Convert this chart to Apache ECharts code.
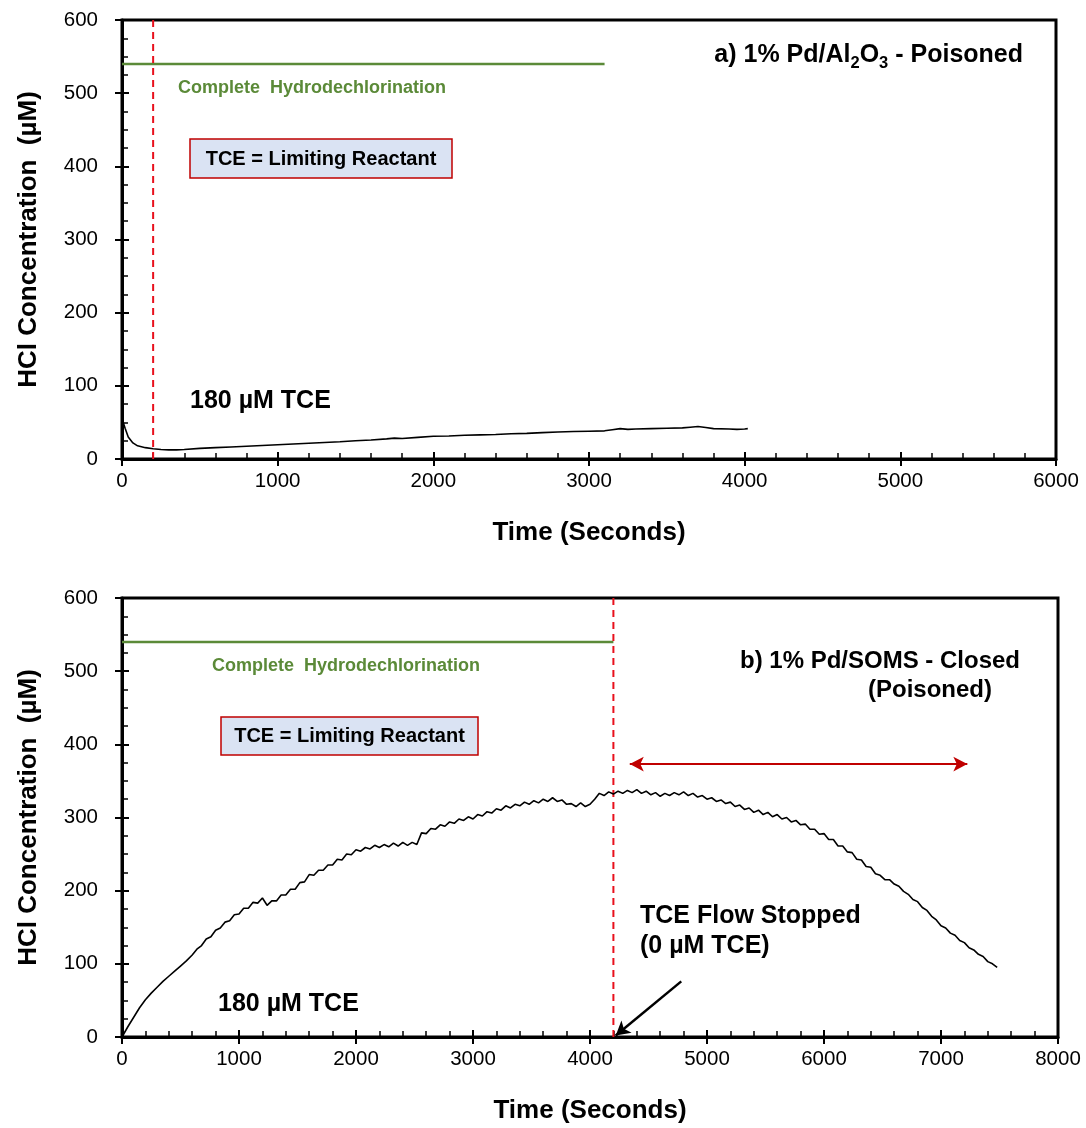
<!DOCTYPE html>
<html>
<head>
<meta charset="utf-8">
<script src="https://cdn.jsdelivr.net/npm/echarts@6/dist/echarts.min.js"></script>
<style>
  html, body { margin: 0; padding: 0; background: #fff; }
  #chart { width: 1086px; height: 1128px; }
</style>
</head>
<body>
<div id="chart"></div>
<script>
// HCl produced over time, panel a: 1% Pd/Al2O3 (poisoned), [time s, HCl µM]
const poisonedAl2O3 = [
  [0, 4], [8, 50], [20, 42], [40, 30], [70, 22], [100, 18], [150, 15.5], [200, 14],
  [250, 13], [300, 12.5], [350, 12.5], [400, 13], [500, 14.5], [600, 15.5], [700, 16.5],
  [800, 17.5], [900, 18.5], [1000, 19.5], [1100, 20.5], [1200, 21.5], [1300, 22.5],
  [1400, 23.5], [1500, 25], [1600, 26], [1700, 27.5], [1750, 28.5], [1800, 28],
  [1900, 29.5], [2000, 31], [2100, 31.5], [2200, 32.5], [2300, 33], [2400, 33.5],
  [2500, 34.5], [2600, 35], [2700, 36], [2800, 37], [2900, 37.5], [3000, 38],
  [3100, 38.5], [3150, 40], [3200, 41.5], [3250, 40.5], [3300, 41], [3400, 41.5],
  [3500, 42], [3600, 42.5], [3650, 43.5], [3700, 44.5], [3750, 43], [3800, 41.5],
  [3900, 41], [3950, 40.5], [4000, 41], [4020, 41.5]
];

// Panel b: 1% Pd/SOMS closed (poisoned), [time s, HCl µM]
const closedSOMS = [
  [0, 0], [50, 14], [100, 27], [150, 40], [200, 51], [250, 60], [300, 68], [350, 76],
  [400, 83], [450, 90], [500, 97], [550, 104], [600, 112], [640, 120], [680, 125],
  [720, 134], [760, 137], [800, 146], [840, 149], [880, 157], [920, 159], [960, 167],
  [1000, 168], [1040, 176], [1080, 176], [1120, 184], [1160, 183], [1200, 190],
  [1240, 180], [1280, 186], [1320, 186], [1360, 194], [1400, 194], [1440, 202],
  [1480, 202], [1520, 211], [1560, 212], [1600, 222], [1640, 221], [1680, 228],
  [1720, 228], [1760, 235], [1800, 235], [1840, 243], [1880, 242], [1920, 250],
  [1960, 249], [2000, 256], [2040, 254], [2080, 259], [2120, 257], [2160, 262],
  [2200, 259], [2240, 263], [2280, 260], [2320, 265], [2360, 261], [2400, 266],
  [2440, 262], [2480, 266], [2520, 263], [2560, 279], [2600, 278], [2640, 285],
  [2680, 284], [2720, 290], [2760, 288], [2800, 294], [2840, 292], [2880, 298],
  [2920, 296], [2960, 301], [3000, 298], [3040, 304], [3080, 302], [3120, 308],
  [3160, 306], [3200, 312], [3240, 310], [3280, 316], [3320, 313], [3360, 318],
  [3400, 316], [3440, 321], [3480, 318], [3520, 323], [3560, 320], [3600, 325],
  [3640, 322], [3680, 327], [3720, 322], [3760, 324], [3800, 318], [3840, 319],
  [3880, 315], [3920, 320], [3960, 315], [4000, 318], [4040, 325], [4080, 333],
  [4120, 330], [4160, 335], [4200, 332], [4240, 336], [4280, 333], [4320, 337],
  [4360, 334], [4400, 338], [4440, 333], [4480, 336], [4520, 331], [4560, 334],
  [4600, 329], [4640, 333], [4680, 330], [4720, 334], [4760, 331], [4800, 335],
  [4840, 330], [4880, 333], [4920, 328], [4960, 330], [5000, 325], [5040, 327],
  [5080, 322], [5120, 324], [5160, 319], [5200, 321], [5240, 315], [5280, 317],
  [5320, 311], [5360, 313], [5400, 307], [5440, 310], [5480, 304], [5520, 307],
  [5560, 301], [5600, 304], [5640, 298], [5680, 300], [5720, 294], [5760, 296],
  [5800, 290], [5840, 291], [5880, 284], [5920, 284], [5960, 277], [6000, 278],
  [6040, 270], [6080, 270], [6120, 261], [6160, 261], [6200, 253], [6240, 252],
  [6280, 243], [6320, 242], [6360, 233], [6400, 232], [6440, 223], [6480, 221],
  [6520, 215], [6560, 215], [6600, 209], [6640, 206], [6680, 199], [6720, 195],
  [6760, 188], [6800, 185], [6840, 177], [6880, 173], [6920, 165], [6960, 160],
  [7000, 152], [7040, 149], [7080, 142], [7120, 139], [7160, 132], [7200, 129],
  [7240, 122], [7280, 119], [7320, 113], [7360, 110], [7400, 103], [7440, 100],
  [7480, 95]
];

// Reference levels and event markers
const completeHDC = 540;          // µM HCl for complete hydrodechlorination
const completeEndA = 3100;        // extent of the reference line, panel a (s)
const completeEndB = 4200;        // extent of the reference line, panel b (s)
const markerTimeA = 200;          // dashed marker, panel a (s)
const flowStopTimeB = 4200;       // TCE flow stopped, panel b (s)
const spanArrowB = [[4340, 373], [7225, 373]];   // period after flow stopped
const pointerArrowB = [[4780, 76], [4220, 2]];   // pointer to the flow-stop time

// Axis ranges
const yMax = 600, yStep = 100;
const xMaxA = 6000, xMaxB = 8000, xStep = 1000;

const FONT = '"Liberation Sans", Arial, sans-serif';
const GREEN = '#5b8a38';
const RED = '#e8101c';
const DARK_RED = '#c00000';

const chart = echarts.init(document.getElementById('chart'), null, { renderer: 'canvas' });

const grids = [
  { left: 122, top: 20, width: 934, height: 439 },
  { left: 122, top: 598, width: 936, height: 439 }
];

const plainNumber = v => String(v);

// Main axes carry labels, line and inner ticks; the twin axes add outer halves of major ticks.
function xAxes(gridIndex, max, nameGap) {
  const base = {
    gridIndex, type: 'value', min: 0, max, interval: xStep, position: 'bottom',
    splitLine: { show: false }
  };
  return [
    Object.assign({}, base, {
      name: 'Time (Seconds)', nameLocation: 'middle', nameGap,
      nameTextStyle: { fontFamily: FONT, fontSize: 26, fontWeight: 'bold', color: '#000' },
      axisLine: { show: true, lineStyle: { color: '#000', width: 3 } },
      axisTick: { show: true, inside: true, length: 7, lineStyle: { color: '#000', width: 2 } },
      minorTick: { show: true, splitNumber: 5, length: 6, lineStyle: { color: '#000', width: 1.5 } },
      axisLabel: { margin: 12, fontFamily: FONT, fontSize: 20.5, color: '#000', formatter: plainNumber }
    }),
    Object.assign({}, base, {
      axisLine: { show: false },
      axisTick: { show: true, inside: false, length: 7, lineStyle: { color: '#000', width: 2 } },
      axisLabel: { show: false }
    })
  ];
}
function yAxes(gridIndex) {
  const base = {
    gridIndex, type: 'value', min: 0, max: yMax, interval: yStep, position: 'left',
    splitLine: { show: false }
  };
  return [
    Object.assign({}, base, {
      name: 'HCl Concentration  (µM)', nameLocation: 'middle', nameGap: 80,
      nameTextStyle: { fontFamily: FONT, fontSize: 26, fontWeight: 'bold', color: '#000' },
      axisLine: { show: true, lineStyle: { color: '#000', width: 3 } },
      axisTick: { show: true, inside: true, length: 7, lineStyle: { color: '#000', width: 2 } },
      minorTick: { show: true, splitNumber: 4, length: 6, lineStyle: { color: '#000', width: 1.5 } },
      axisLabel: { margin: 24, fontFamily: FONT, fontSize: 20.5, color: '#000', formatter: plainNumber }
    }),
    Object.assign({}, base, {
      axisLine: { show: false },
      axisTick: { show: true, inside: false, length: 7, lineStyle: { color: '#000', width: 2 } },
      axisLabel: { show: false }
    })
  ];
}

function refLine(xi, yi, data, color, width, type) {
  return {
    type: 'line', xAxisIndex: xi, yAxisIndex: yi, data, symbol: 'none', silent: true,
    lineStyle: { color, width, type }, z: 3
  };
}

const option = {
  animation: false,
  backgroundColor: '#fff',
  grid: grids.map(g => Object.assign({ show: true, borderColor: '#000', borderWidth: 3,
    backgroundColor: 'transparent' }, g)),
  xAxis: [...xAxes(0, xMaxA, 61), ...xAxes(1, xMaxB, 61)],
  yAxis: [...yAxes(0), ...yAxes(1)],
  series: [
    // panel a
    refLine(0, 0, [[0, completeHDC], [completeEndA, completeHDC]], GREEN, 2.5, 'solid'),
    refLine(0, 0, [[markerTimeA, 0], [markerTimeA, yMax]], RED, 2, [7, 5]),
    {
      type: 'line', xAxisIndex: 0, yAxisIndex: 0, data: poisonedAl2O3,
      symbol: 'none', lineStyle: { color: '#000', width: 1.6 }, z: 4
    },
    // panel b
    refLine(2, 2, [[0, completeHDC], [completeEndB, completeHDC]], GREEN, 2.5, 'solid'),
    refLine(2, 2, [[flowStopTimeB, 0], [flowStopTimeB, yMax]], RED, 2, [7, 5]),
    {
      type: 'line', xAxisIndex: 2, yAxisIndex: 2, data: closedSOMS,
      symbol: 'none', lineStyle: { color: '#000', width: 1.6 }, z: 4,
      markLine: {
        silent: true, animation: false, precision: 3,
        label: { show: false },
        data: [
          [
            { coord: spanArrowB[0], symbol: 'arrow', symbolSize: [11, 14],
              lineStyle: { color: DARK_RED, width: 2, type: 'solid' } },
            { coord: spanArrowB[1], symbol: 'arrow', symbolSize: [11, 14] }
          ],
          [
            { coord: pointerArrowB[0], symbol: 'none',
              lineStyle: { color: '#000', width: 2.5, type: 'solid' } },
            { coord: pointerArrowB[1], symbol: 'arrow', symbolSize: [12, 14] }
          ]
        ]
      }
    }
  ],
  graphic: [
    // panel a annotations
    { type: 'text', x: 1023, y: 55, z: 10, style: {
      text: '{b|a) 1% Pd/Al}{s|2}{b|O}{s|3}{b| - Poisoned}', align: 'right', verticalAlign: 'middle',
      rich: {
        b: { fontFamily: FONT, fontSize: 25, fontWeight: 'bold', fill: '#000', lineHeight: 33 },
        s: { fontFamily: FONT, fontSize: 16.5, fontWeight: 'bold', fill: '#000', lineHeight: 16, verticalAlign: 'bottom' }
      } } },
    { type: 'text', x: 178, y: 88, z: 10, style: {
      text: 'Complete  Hydrodechlorination', fill: GREEN, align: 'left', verticalAlign: 'middle',
      font: 'bold 18px ' + FONT } },
    { type: 'rect', z: 9, shape: { x: 190, y: 139, width: 262, height: 39 },
      style: { fill: '#dae3f3', stroke: DARK_RED, lineWidth: 1.5 } },
    { type: 'text', x: 321, y: 159, z: 10, style: {
      text: 'TCE = Limiting Reactant', fill: '#000', align: 'center', verticalAlign: 'middle',
      font: 'bold 20px ' + FONT } },
    { type: 'text', x: 190, y: 401, z: 10, style: {
      text: '180 µM TCE', fill: '#000', align: 'left', verticalAlign: 'middle',
      font: 'bold 25px ' + FONT } },

    // panel b annotations
    { type: 'text', x: 1020, y: 661, z: 10, style: {
      text: 'b) 1% Pd/SOMS - Closed', fill: '#000', align: 'right', verticalAlign: 'middle',
      font: 'bold 24px ' + FONT } },
    { type: 'text', x: 992, y: 690, z: 10, style: {
      text: '(Poisoned)', fill: '#000', align: 'right', verticalAlign: 'middle',
      font: 'bold 24px ' + FONT } },
    { type: 'text', x: 212, y: 666, z: 10, style: {
      text: 'Complete  Hydrodechlorination', fill: GREEN, align: 'left', verticalAlign: 'middle',
      font: 'bold 18px ' + FONT } },
    { type: 'rect', z: 9, shape: { x: 221, y: 717, width: 257, height: 38 },
      style: { fill: '#dae3f3', stroke: DARK_RED, lineWidth: 1.5 } },
    { type: 'text', x: 349.5, y: 736.5, z: 10, style: {
      text: 'TCE = Limiting Reactant', fill: '#000', align: 'center', verticalAlign: 'middle',
      font: 'bold 20px ' + FONT } },
    { type: 'text', x: 640, y: 916, z: 10, style: {
      text: 'TCE Flow Stopped', fill: '#000', align: 'left', verticalAlign: 'middle',
      font: 'bold 25px ' + FONT } },
    { type: 'text', x: 640, y: 946, z: 10, style: {
      text: '(0 µM TCE)', fill: '#000', align: 'left', verticalAlign: 'middle',
      font: 'bold 25px ' + FONT } },
    { type: 'text', x: 218, y: 1004, z: 10, style: {
      text: '180 µM TCE', fill: '#000', align: 'left', verticalAlign: 'middle',
      font: 'bold 25px ' + FONT } }
  ]
};

chart.setOption(option);
</script>
</body>
</html>
